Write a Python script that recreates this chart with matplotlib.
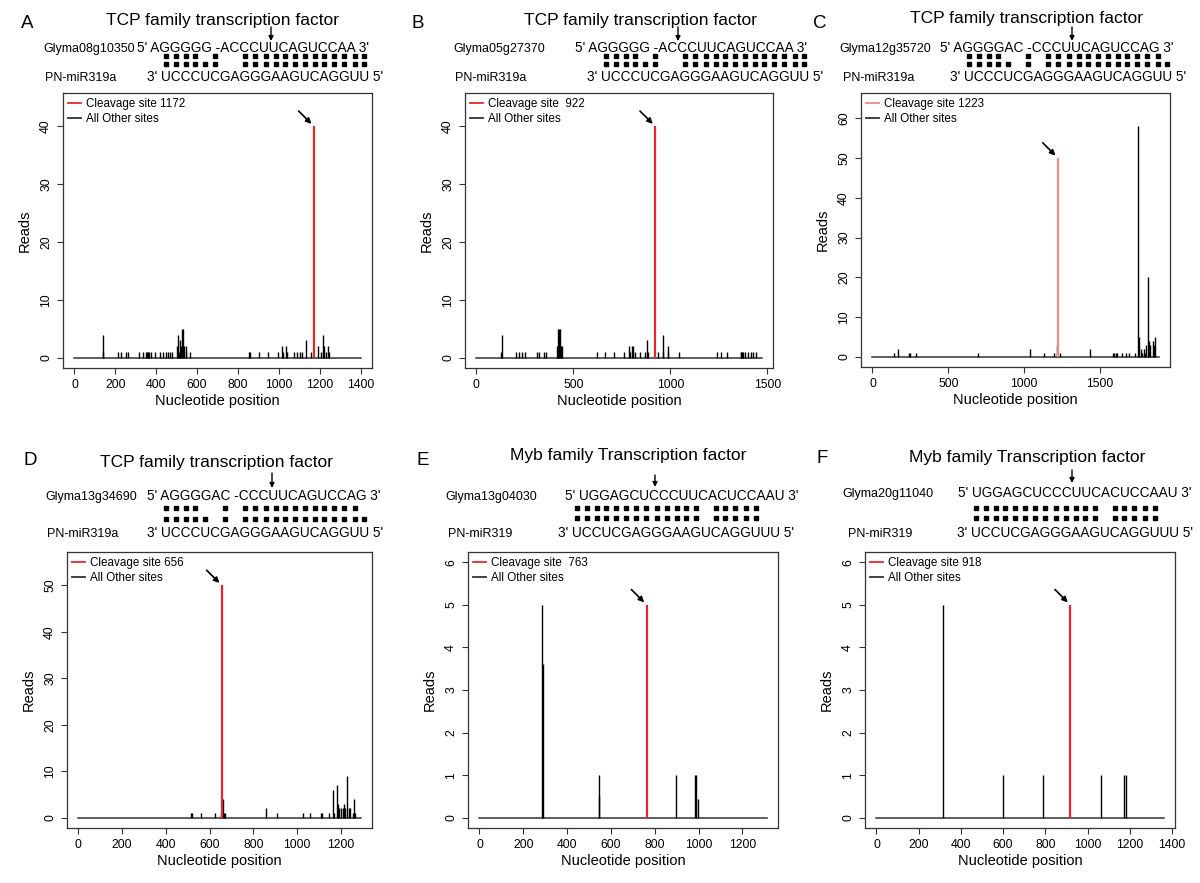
import matplotlib
matplotlib.use("Agg")
import matplotlib.pyplot as plt
from matplotlib.font_manager import FontProperties

plt.rcParams["font.family"] = ["Liberation Sans", "DejaVu Sans"]

W, H = 1200, 883

# ---- values ----
letters = ["A", "B", "C", "D", "E", "F"]
titles = ["TCP family transcription factor"] * 4 + ["Myb family Transcription factor"] * 2
genes = ["Glyma08g10350", "Glyma05g27370", "Glyma12g35720",
         "Glyma13g34690", "Glyma13g04030", "Glyma20g11040"]
targets = ["AGGGGG -ACCCUUCAGUCCAA", "AGGGGG -ACCCUUCAGUCCAA",
           "AGGGGAC -CCCUUCAGUCCAG", "AGGGGAC -CCCUUCAGUCCAG",
           "UGGAGCUCCCUUCACUCCAAU", "UGGAGCUCCCUUCACUCCAAU"]
mirnas = ["PN-miR319a"] * 4 + ["PN-miR319"] * 2
mirna_seqs = ["UCCCUCGAGGGAAGUCAGGUU"] * 4 + ["UCCUCGAGGGAAGUCAGGUUU"] * 2
# '*' = dot under that miRNA base
top_pairs = ["****-*--*************", "****-*--*************",
             "****--*-************-", "****--*-************-",
             "*************-*****--", "*************-*****--"]
bottom_pairs = ["******--*************", "******--*************",
                "*****-*-*************", "*****-*-*************",
                "*************-*****--", "*************-*****--"]

legend_labels = ["Cleavage site 1172", "Cleavage site  922", "Cleavage site 1223",
                 "Cleavage site 656", "Cleavage site  763", "Cleavage site 918"]
cleave_site = [1172, 922, 1223, 656, 763, 918]
cleave_reads = [40, 40, 50, 50, 5, 5]
lengths = [1400, 1470, 1886, 1290, 1310, 1360]
y_top = [44, 44, 63.8, 55, 6, 6]
y_step = [10, 10, 10, 10, 1, 1]
x_step = [200, 500, 500, 200, 200, 200]

a_pos = [140, 142, 213, 226, 251, 262, 316, 336, 350, 355, 360, 365, 376, 393, 417, 433,
         446, 458, 469, 478, 502, 507, 512, 518, 522, 526, 531, 536, 544, 548, 567, 854,
         858, 903, 947, 996, 1017, 1022, 1037, 1042, 1074, 1088, 1105, 1115, 1131, 1158,
         1191, 1207, 1217, 1222, 1230, 1241, 1245]
a_reads = [4, 1, 1, 1, 1, 1, 1, 1, 1, 1, 1, 1, 1, 1, 1, 1,
           1, 1, 1, 1, 2, 4, 1, 3, 2, 5, 5, 2, 2, 1, 1, 1,
           1, 1, 1, 1, 2, 1, 2, 1, 1, 1, 1, 1, 3, 1,
           2, 1, 4, 2, 1, 2, 1]

b_pos = [128, 131, 205, 219, 235, 249, 311, 324, 346, 358, 413, 418, 422, 426, 430, 435,
         440, 623, 662, 708, 759, 785, 790, 802, 807, 816, 845, 867, 879, 884, 935, 960,
         964, 986, 990, 1044, 1242, 1263, 1290, 1362, 1366, 1370, 1375, 1385, 1399, 1413,
         1425, 1439]
b_reads = [1, 4, 1, 1, 1, 1, 1, 1, 1, 1, 2, 1, 5, 5, 5, 2,
           2, 1, 1, 1, 1, 2, 1, 2, 2, 1, 1, 1, 3, 1, 1, 4,
           1, 2, 1, 1, 1, 1, 1, 1, 1, 1, 1, 1, 1, 1,
           1, 1]

c_pos = [141, 167, 243, 250, 286, 698, 1041, 1129, 1199, 1219, 1236, 1431, 1583, 1592,
         1603, 1615, 1648, 1669, 1691, 1734, 1749, 1756, 1767, 1778, 1788, 1799, 1806,
         1814, 1823, 1832, 1849, 1856, 1864]
c_reads = [1, 2, 1, 1, 1, 1, 2, 1, 1, 3, 1, 2, 1, 1,
           1, 1, 1, 1, 1, 1, 58, 5, 2, 1, 2, 1, 3,
           20, 4, 3, 4, 3, 5]

d_pos = [515, 520, 560, 626, 650, 660, 665, 672, 858, 908, 1028, 1060, 1107, 1112, 1147,
         1162, 1170, 1182, 1187, 1192, 1200, 1207, 1215, 1220, 1227, 1235, 1242, 1257,
         1260, 1265]
d_reads = [1, 1, 1, 1, 1, 4, 1, 1, 2, 1, 1, 1, 1, 1, 1,
           6, 1, 7, 3, 2, 2, 2, 3, 2, 9, 2, 2, 1,
           4, 1]

e_pos = [287, 289, 545, 547, 899, 983, 990, 997]
e_reads = [5, 3.6, 1, 0.5, 1, 1, 1, 0.45]

f_pos = [315, 599, 788, 1063, 1172, 1180]
f_reads = [5, 1, 1, 1, 1, 1]

other_pos = [a_pos, b_pos, c_pos, d_pos, e_pos, f_pos]
other_reads = [a_reads, b_reads, c_reads, d_reads, e_reads, f_reads]

# ---- layout (pixels) ----
boxes = [(63, 93, 372, 368), (465, 93, 773, 368), (861, 93, 1170, 367),
         (67, 552, 372, 828), (468, 552, 778, 828), (865, 552, 1175, 828)]
# letter x,y ; title cx, baseline ; name1 x, seq1 x, bl1 ; name2 x, seq2 x, bl2 ;
# dot rows y ; arrow x, y0, y1
heads = [
    (27, 28, 222, 25, 43, 137, 52, 45, 147, 81, 56, 64, 271, 27, 41),
    (418, 28, 641, 25, 453, 575, 52, 455, 587, 81, 56, 64, 678, 27, 41),
    (820, 28, 1026, 23, 839, 940, 52, 843, 950, 81, 56, 64, 1072, 27, 41),
    (30, 465, 216, 467, 45, 147, 500, 47, 147, 537, 508, 519, 272, 473, 488),
    (423, 465, 628, 460, 445, 565, 500, 448, 558, 537, 508, 518, 655, 475, 487),
    (822, 463, 1027, 462, 842, 958, 497, 848, 957, 537, 508, 518, 1072, 470, 483),
]
red_cols = ["#e8262a", "#e8262a", "#f08a8a", "#e8262a", "#e8262a", "#e8262a"]

SEQ_PT = 9.8
NAME_PT = 9.0
fig = plt.figure(figsize=(W / 100, H / 100), dpi=100)
over = fig.add_axes([0, 0, 1, 1])
over.set_xlim(0, W)
over.set_ylim(H, 0)
over.axis("off")
over.patch.set_alpha(0)

renderer = fig.canvas.get_renderer()
fp = FontProperties(family=["Liberation Sans"], size=SEQ_PT)


def tw(s):
    w, h, d = renderer.get_text_width_height_descent(s, fp, ismath=False)
    return w


for i in range(6):
    (lx, ly, tcx, tbl, n1x, s1x, bl1, n2x, s2x, bl2,
     dy1, dy2, arx, ay0, ay1) = heads[i]
    over.text(lx, ly, letters[i], fontsize=13.5, ha="center", va="baseline")
    over.text(tcx, tbl, titles[i], fontsize=12.5, ha="center", va="baseline")
    over.text(n1x, bl1, genes[i], fontsize=NAME_PT, va="baseline")
    over.text(s1x, bl1, "5' " + targets[i] + " 3'", fontsize=SEQ_PT, va="baseline")
    over.text(n2x, bl2, mirnas[i], fontsize=NAME_PT, va="baseline")
    over.text(s2x, bl2, "3' " + mirna_seqs[i] + " 5'", fontsize=SEQ_PT, va="baseline")
    over.annotate("", xy=(arx, ay1), xytext=(arx, ay0),
                  arrowprops=dict(arrowstyle="-|>", lw=1.0, color="black",
                                  mutation_scale=7, shrinkA=0, shrinkB=0))
    # pairing dots, centred on the miRNA bases
    seq = mirna_seqs[i]
    xs = [s2x + tw("3' " + seq[:k]) + tw(seq[k]) / 2 for k in range(len(seq))]
    for row, yy in ((top_pairs[i], dy1), (bottom_pairs[i], dy2)):
        px = [xs[k] for k, c in enumerate(row) if c == "*"]
        over.plot(px, [yy] * len(px), ls="none", marker="s", ms=2.9,
                  color="black", mec="black")

    # plot panel
    l, t, r, b = boxes[i]
    ax = fig.add_axes([l / W, 1 - b / H, (r - l) / W, (b - t) / H])
    L = lengths[i]
    ax.plot([0, L], [0, 0], color="#333333", lw=1.1, zorder=1)
    ax.vlines(other_pos[i], 0, other_reads[i], color="black", lw=1.0, zorder=2)
    ax.vlines([cleave_site[i]], 0, [cleave_reads[i]], color=red_cols[i], lw=1.6, zorder=3)
    ax.set_xlim(-0.04 * L, 1.04 * L)
    ax.set_ylim(-0.04 * y_top[i], 1.04 * y_top[i])
    ymax_tick = int(y_top[i] // y_step[i]) * y_step[i]
    ax.set_yticks(range(0, ymax_tick + 1, y_step[i]))
    ax.set_xticks(range(0, int(1.04 * L) + 1, x_step[i]))
    ax.tick_params(axis="both", length=4.3, width=0.8, color="#333333",
                   labelsize=8.8, pad=3.5)
    for lab in ax.get_yticklabels():
        lab.set_rotation(90)
        lab.set_va("center")
    for s in ax.spines.values():
        s.set_color("#333333")
        s.set_linewidth(0.9)
    ax.set_xlabel("Nucleotide position", fontsize=10.5, labelpad=2)
    ax.set_ylabel("Reads", fontsize=10.5, labelpad=6)
    h1, = ax.plot([], [], color=red_cols[i], lw=1.3)
    h2, = ax.plot([], [], color="#333333", lw=1.3)
    ax.legend([h1, h2], [legend_labels[i], "All Other sites"], loc="upper left",
              frameon=False, fontsize=8.4, handlelength=1.1, handletextpad=0.4,
              borderaxespad=0.15, labelspacing=0.25, borderpad=0.3)
    ax.annotate("", xy=(cleave_site[i], cleave_reads[i]), xytext=(-11, 11),
                textcoords="offset points",
                arrowprops=dict(arrowstyle="-|>", lw=1.2, color="black",
                                mutation_scale=8, shrinkA=0, shrinkB=2.5))

fig.savefig("out.png", dpi=100)
